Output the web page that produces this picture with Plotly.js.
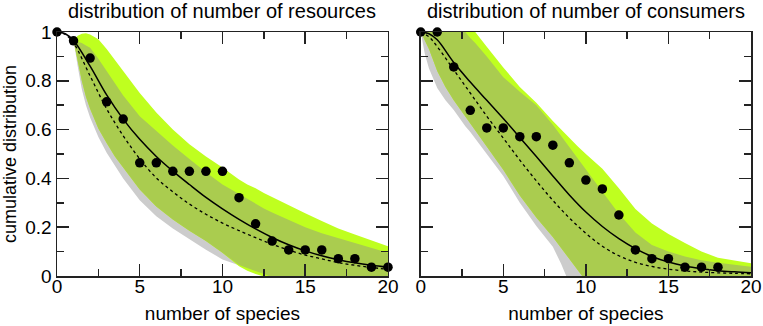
<!DOCTYPE html>
<html>
<head>
<meta charset="utf-8">
<script src="https://cdn.plot.ly/plotly-3.0.1.min.js"></script>
<style>
html,body{margin:0;padding:0;background:#fff;}
#chart{width:763px;height:326px;}
</style>
</head>
<body>
<div id="chart"></div>
<script>
// ---------- data: left panel (resources) ----------
const resPtsX = [0,1,2,3,4,5,6,7,8,9,10,11,12,13,14,15,16,17,18,19,20];
const resPtsY = [1,0.964,0.893,0.714,0.643,0.464,0.464,0.429,0.429,0.429,0.429,0.321,0.214,0.143,0.107,0.107,0.107,0.071,0.071,0.036,0.036];
const resLineX = [0,0.5,1,2,3,4,5,6,7,8,9,10,11,12,13,14,15,16,17,18,19,20];
const resSolid = [1,0.993,0.965,0.86,0.742,0.643,0.56,0.49,0.43,0.375,0.322,0.275,0.232,0.193,0.158,0.128,0.103,0.083,0.067,0.054,0.044,0.036];
const resDotted = [1,0.99,0.955,0.82,0.685,0.575,0.48,0.402,0.345,0.295,0.253,0.217,0.186,0.157,0.13,0.106,0.086,0.07,0.055,0.044,0.035,0.027];
const resBandX   = [1,1.25,1.5,1.75,2,2.5,3,3.5,4,5,6,7,8,9,10,11,11.5,12,12.5,13,14,15,16,17,18,19,20];
const resLimeHi  = [0.965,0.985,0.993,0.995,0.99,0.97,0.93,0.885,0.838,0.75,0.67,0.6,0.54,0.49,0.445,0.395,0.375,0.36,0.34,0.323,0.29,0.257,0.225,0.195,0.17,0.145,0.122];
const resLimeLo  = [0.965,0.89,0.8,0.735,0.685,0.605,0.545,0.49,0.445,0.355,0.285,0.232,0.185,0.143,0.095,0.04,0.022,0.008,-0.002,-0.02,-0.06,-0.1,-0.1,-0.1,-0.1,-0.1,-0.1];
const resGreyHi  = [0.965,0.96,0.955,0.945,0.935,0.89,0.84,0.785,0.74,0.655,0.595,0.535,0.48,0.425,0.375,0.335,0.315,0.295,0.277,0.26,0.23,0.2,0.175,0.155,0.135,0.115,0.095];
const resGreyLo  = [0.965,0.86,0.765,0.7,0.65,0.57,0.505,0.45,0.4,0.31,0.245,0.195,0.15,0.108,0.068,0.045,0.032,0.02,0.008,-0.005,-0.05,-0.1,-0.1,-0.1,-0.1,-0.1,-0.1];

// ---------- data: right panel (consumers) ----------
const conPtsX = [0,1,2,3,4,5,6,7,8,9,10,11,12,13,14,15,16,17,18];
const conPtsY = [1,1,0.857,0.679,0.607,0.607,0.571,0.571,0.536,0.464,0.393,0.357,0.25,0.107,0.071,0.071,0.036,0.036,0.036];
const conLineX = [0,0.5,1,2,3,4,5,6,7,8,9,10,11,12,13,14,15,16,17,18,19,20];
const conSolid = [1,0.993,0.968,0.875,0.795,0.72,0.645,0.568,0.49,0.41,0.332,0.262,0.203,0.153,0.112,0.08,0.057,0.041,0.03,0.022,0.017,0.013];
const conDotted = [1,0.98,0.94,0.845,0.75,0.655,0.565,0.475,0.39,0.31,0.238,0.175,0.122,0.083,0.056,0.039,0.028,0.021,0.016,0.013,0.011,0.009];
const conBandX   = [0,0.25,0.5,1,1.5,2,2.7,3,3.3,4,5,6,7,8,8.5,9,9.5,10,11,12,13,14,15,16,17,18,19,20];
const conLimeHi  = [1,1,1,1,1,1,1,1,1,0.94,0.855,0.775,0.71,0.635,0.6,0.565,0.532,0.5,0.44,0.36,0.275,0.215,0.172,0.135,0.1,0.075,0.062,0.052];
const conLimeLo  = [1,0.965,0.93,0.84,0.775,0.72,0.655,0.625,0.6,0.53,0.435,0.33,0.24,0.16,0.115,0.07,0.025,-0.02,-0.1,-0.1,-0.1,-0.1,-0.1,-0.1,-0.1,-0.1,-0.1,-0.1];
const conGreyHi  = [1,1,1,1,1,1,1,0.975,0.955,0.9,0.815,0.755,0.7,0.62,0.575,0.525,0.48,0.435,0.345,0.255,0.178,0.127,0.1,0.08,0.065,0.054,0.045,0.038];
const conGreyLo  = [1,0.91,0.85,0.77,0.72,0.68,0.614,0.59,0.565,0.5,0.41,0.3,0.205,0.12,0.05,-0.03,-0.08,-0.12,-0.2,-0.2,-0.2,-0.2,-0.2,-0.2,-0.2,-0.2,-0.2,-0.2];

const titles = ['distribution of number of resources','distribution of number of consumers'];
const xTitle = 'number of species';
const yTitle = 'cumulative distribution';

// ---------- styles ----------
const GREY = '#cccccc', LIME = '#bfff1f', OLIVE = '#aacc4f';
const FONT = 'Liberation Sans, Arial, Helvetica, sans-serif';

function band(x, lo, hi, color, xa, ya) {
  return {
    x: x.concat(x.slice().reverse()),
    y: hi.concat(lo.slice().reverse()),
    type: 'scatter', mode: 'lines', fill: 'toself',
    fillcolor: color, line: {width: 0, color: color},
    hoverinfo: 'skip', showlegend: false, xaxis: xa, yaxis: ya
  };
}
function overlap(x, lo1, hi1, lo2, hi2, xa, ya) {
  const lo = x.map((_, i) => Math.max(lo1[i], lo2[i]));
  const hi = x.map((_, i) => Math.max(lo[i], Math.min(hi1[i], hi2[i])));
  return band(x, lo, hi, OLIVE, xa, ya);
}
function panel(bx, gLo, gHi, lLo, lHi, lx, solid, dotted, px, py, xa, ya) {
  return [
    band(bx, gLo, gHi, GREY, xa, ya),
    band(bx, lLo, lHi, LIME, xa, ya),
    overlap(bx, gLo, gHi, lLo, lHi, xa, ya),
    {x: lx, y: dotted, type: 'scatter', mode: 'lines', line: {color: '#000', width: 1.3, dash: 'dot', shape: 'spline'}, showlegend: false, xaxis: xa, yaxis: ya},
    {x: lx, y: solid, type: 'scatter', mode: 'lines', line: {color: '#000', width: 1.5, shape: 'spline'}, showlegend: false, xaxis: xa, yaxis: ya},
    {x: px, y: py, type: 'scatter', mode: 'markers', marker: {color: '#000', size: 9.5}, cliponaxis: false, showlegend: false, xaxis: xa, yaxis: ya}
  ];
}

const traces = [].concat(
  panel(resBandX, resGreyLo, resGreyHi, resLimeLo, resLimeHi, resLineX, resSolid, resDotted, resPtsX, resPtsY, 'x', 'y'),
  panel(conBandX, conGreyLo, conGreyHi, conLimeLo, conLimeHi, conLineX, conSolid, conDotted, conPtsX, conPtsY, 'x2', 'y2')
);

function xaxis(domain, anchor) {
  return {
    domain: domain, anchor: anchor, range: [0, 20], dtick: 5, tick0: 0,
    ticks: 'inside', ticklen: 12, tickwidth: 1.5, tickcolor: '#222',
    minor: {dtick: 2.5, ticks: 'inside', ticklen: 7, tickwidth: 1.5, tickcolor: '#222'},
    showline: true, linecolor: '#222', linewidth: 1.5, mirror: 'allticks',
    showgrid: false, zeroline: false, ticklabelstandoff: -7,
    tickfont: {family: FONT, size: 19, color: '#000'},
    title: {text: xTitle, font: {family: FONT, size: 19, color: '#000'}, standoff: 10}
  };
}
function yaxis(anchor, showLabels) {
  return {
    anchor: anchor, domain: [0, 1], range: [0, 1], dtick: 0.2, tick0: 0,
    ticks: 'inside', ticklen: 12, tickwidth: 1.5, tickcolor: '#222',
    minor: {dtick: 0.1, ticks: 'inside', ticklen: 7, tickwidth: 1.5, tickcolor: '#222'},
    showline: true, linecolor: '#222', linewidth: 1.5, mirror: 'allticks',
    showgrid: false, zeroline: false, showticklabels: showLabels, ticklabelstandoff: 0,
    tickfont: {family: FONT, size: 19, color: '#000'},
    title: showLabels ? {text: yTitle, font: {family: FONT, size: 18, color: '#000'}, standoff: 6} : {text: ''}
  };
}

const layout = {
  width: 763, height: 326,
  margin: {l: 57, r: 12, t: 32, b: 50, pad: 0},
  paper_bgcolor: '#fff', plot_bgcolor: '#fff',
  showlegend: false,
  xaxis: xaxis([0, 0.4769], 'y'),
  yaxis: yaxis('x', true),
  xaxis2: xaxis([0.5241, 1], 'y2'),
  yaxis2: yaxis('x2', false),
  annotations: [
    {text: titles[0], xref: 'paper', yref: 'paper', x: 0.4769/2, y: 1, yanchor: 'bottom', xanchor: 'center', yshift: 8, showarrow: false, font: {family: FONT, size: 20, color: '#000'}},
    {text: titles[1], xref: 'paper', yref: 'paper', x: (0.5241 + 1)/2, y: 1, yanchor: 'bottom', xanchor: 'center', yshift: 8, showarrow: false, font: {family: FONT, size: 20, color: '#000'}}
  ]
};

Plotly.newPlot('chart', traces, layout, {staticPlot: true, displayModeBar: false});
</script>
</body>
</html>
